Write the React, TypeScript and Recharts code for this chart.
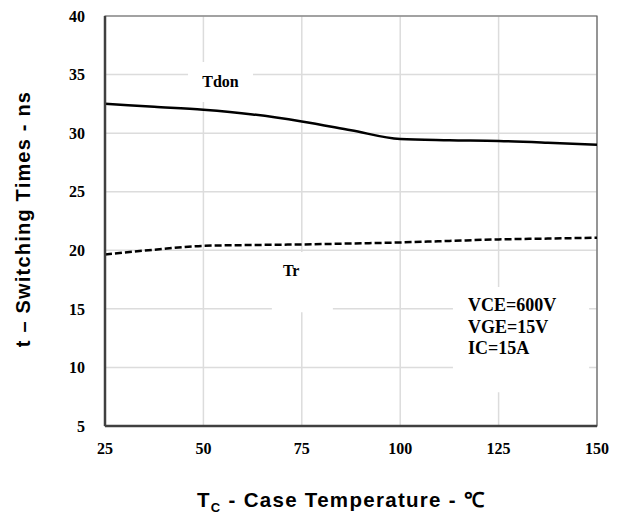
import {
  CartesianGrid,
  Label,
  Line,
  LineChart,
  ReferenceArea,
  XAxis,
  YAxis
} from 'recharts';

// Case temperature (°C) sample points
const caseTemps = [25, 37.5, 50, 62.5, 75, 87.5, 100, 112.5, 125, 137.5, 150];
// Turn-on delay time (ns)
const tdonValues = [32.5, 32.25, 32.0, 31.6, 31.0, 30.25, 29.5, 29.4, 29.33, 29.18, 29.0];
// Rise time (ns)
const trValues = [19.65, 20.05, 20.38, 20.45, 20.5, 20.58, 20.67, 20.8, 20.93, 21.0, 21.08];

const xTicks = [25, 50, 75, 100, 125, 150];
const yTicks = [5, 10, 15, 20, 25, 30, 35, 40];
const conditions = ['VCE=600V', 'VGE=15V', 'IC=15A'];

const serif = '"Liberation Serif", "Times New Roman", serif';
const sans = '"Liberation Sans", Arial, sans-serif';

const data = caseTemps.map((t, i) => ({ t, tdon: tdonValues[i], tr: trValues[i] }));

const tickStyle = { fontFamily: serif, fontSize: 16, fontWeight: 700, fill: '#000' };

export default function App() {
  return (
    <div style={{ position: 'absolute', left: 0, top: 0, background: '#fff' }}>
      <LineChart
        width={625}
        height={517}
        data={data}
        margin={{ top: 16, right: 28, bottom: 0, left: 0 }}
      >
        <CartesianGrid stroke="#dcdcdc" strokeWidth={1.5} />
        <XAxis
          dataKey="t"
          type="number"
          domain={[25, 150]}
          ticks={xTicks}
          height={91}
          tickSize={0}
          tickMargin={17}
          axisLine={{ stroke: '#404040', strokeWidth: 2.5 }}
          tick={tickStyle}
        >
          <Label
            content={() => (
              <text
                x={197}
                y={507}
                fontFamily={sans}
                fontWeight={700}
                fontSize={20.5}
                letterSpacing={1.3}
                fill="#000"
              >
                <tspan>T</tspan>
                <tspan fontSize={13} dy={5}>C</tspan>
                <tspan dy={-5}> - Case Temperature - ℃</tspan>
              </text>
            )}
          />
        </XAxis>
        <YAxis
          type="number"
          domain={[5, 40]}
          ticks={yTicks}
          width={105}
          tickSize={0}
          tickMargin={20}
          axisLine={{ stroke: '#404040', strokeWidth: 2.5 }}
          tick={tickStyle}
        >
          <Label
            content={() => (
              <text
                x={0}
                y={0}
                transform="translate(30 219) rotate(-90)"
                textAnchor="middle"
                fontFamily={sans}
                fontWeight={700}
                fontSize={20}
                letterSpacing={1.2}
                fill="#000"
              >
                t – Switching Times - ns
              </text>
            )}
          />
        </YAxis>

        {/* white label boxes knock out the grid behind the annotations */}
        <ReferenceArea x1={46.1} x2={62.6} y1={32.66} y2={36.07} fill="#fff" fillOpacity={1} stroke="none">
          <Label
            content={({ viewBox }: any) => (
              <text
                x={viewBox.x + viewBox.width / 2}
                y={viewBox.y + viewBox.height / 2 + 5}
                textAnchor="middle"
                fontFamily={serif}
                fontWeight={700}
                fontSize={16}
                fill="#000"
              >
                Tdon
              </text>
            )}
          />
        </ReferenceArea>
        <ReferenceArea x1={67.4} x2={82.9} y1={14.72} y2={19.85} fill="#fff" fillOpacity={1} stroke="none">
          <Label
            content={({ viewBox }: any) => (
              <text
                x={viewBox.x + 11}
                y={viewBox.y + 24}
                fontFamily={serif}
                fontWeight={700}
                fontSize={16}
                fill="#000"
              >
                Tr
              </text>
            )}
          />
        </ReferenceArea>
        <ReferenceArea x1={113.4} x2={148} y1={7.89} y2={16.86} fill="#fff" fillOpacity={1} stroke="none">
          <Label
            content={({ viewBox }: any) => (
              <text fontFamily={serif} fontWeight={700} fontSize={18} fill="#000">
                {conditions.map((c, i) => (
                  <tspan key={c} x={viewBox.x + 15} y={viewBox.y + 24 + i * 21.5}>
                    {c}
                  </tspan>
                ))}
              </text>
            )}
          />
        </ReferenceArea>

        {/* plot frame */}
        <ReferenceArea x1={25} x2={150} y1={5} y2={40} fill="none" stroke="#606060" strokeWidth={1.2} />

        <Line
          dataKey="tdon"
          type="monotone"
          stroke="#000"
          strokeWidth={2.5}
          dot={false}
          isAnimationActive={false}
        />
        <Line
          dataKey="tr"
          type="monotone"
          stroke="#000"
          strokeWidth={2.5}
          strokeDasharray="7 3"
          dot={false}
          isAnimationActive={false}
        />
      </LineChart>
    </div>
  );
}
